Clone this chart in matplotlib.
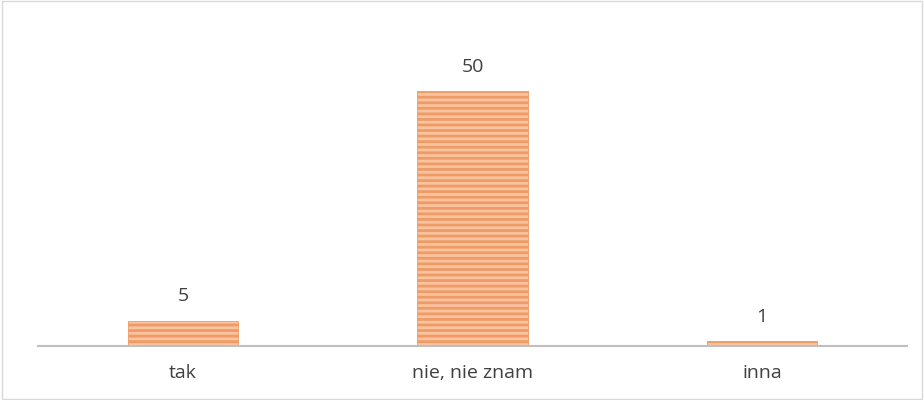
import matplotlib
matplotlib.use("Agg")
import matplotlib.pyplot as plt
from matplotlib.patches import Rectangle

categories = ["tak", "nie, nie znam", "inna"]
values = [5, 50, 1]

plt.rcParams['font.family'] = ['Open Sans', 'DejaVu Sans']
plt.rcParams['hatch.linewidth'] = 2.0
plt.rcParams['hatch.color'] = '#EA8F57'

fig = plt.figure(figsize=(9.24, 4.0), dpi=100)
ax = fig.add_axes([38 / 924, 54 / 400, 869 / 924, 306 / 400])

x = range(len(categories))
bars = ax.bar(x, values, width=0.38, color='#FAC3A0', edgecolor='#EE9B66',
              linewidth=0.6, hatch='---')

for xi, v in zip(x, values):
    ax.annotate(str(v), (xi, v), xytext=(0, 11), textcoords='offset points',
                ha='center', va='bottom', fontsize=14, color='#404040')

ax.set_xlim(-0.5, len(categories) - 0.5)
ax.set_ylim(0, 60)
ax.set_xticks(list(x))
ax.set_xticklabels(categories, fontsize=14, color='#404040')
ax.tick_params(axis='x', length=0, pad=13)
ax.set_yticks([])
for s in ['top', 'right', 'left']:
    ax.spines[s].set_visible(False)
ax.spines['bottom'].set_color('#BFBFBF')
ax.spines['bottom'].set_linewidth(1.5)

# chart border
fig.patches.append(Rectangle((0.002, 0.003), 0.996, 0.994, transform=fig.transFigure,
                             fill=False, edgecolor='#D9D9D9', linewidth=1))

fig.savefig('out.png', dpi=100)
